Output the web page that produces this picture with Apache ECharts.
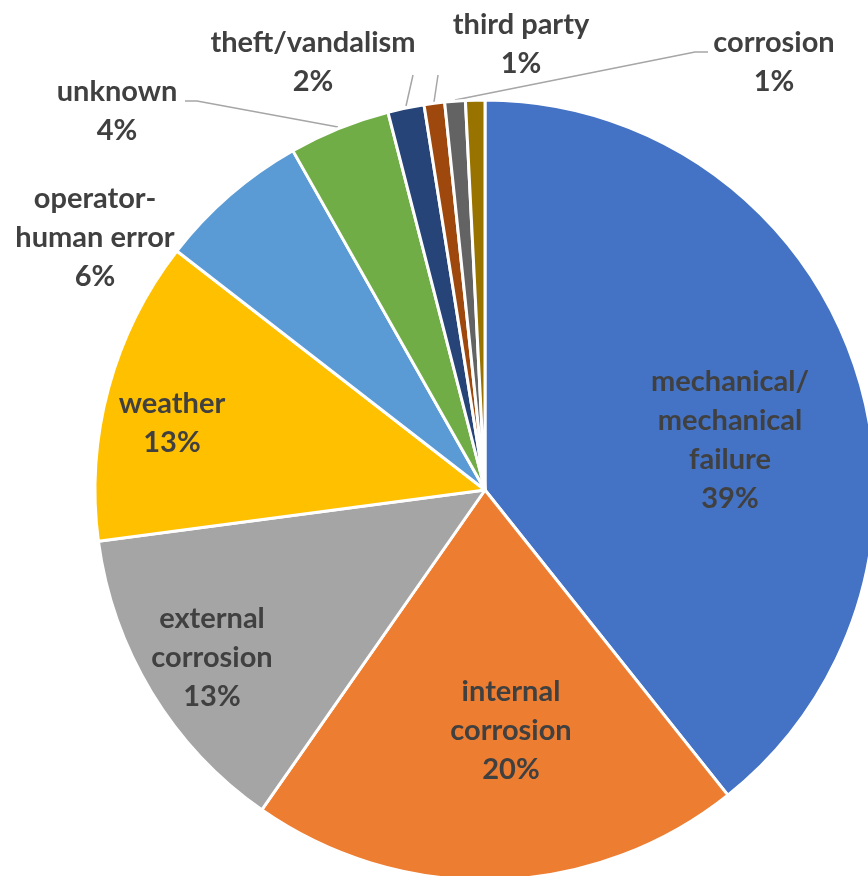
<!DOCTYPE html>
<html><head><meta charset="utf-8">
<script src="https://cdn.jsdelivr.net/npm/echarts@6/dist/echarts.min.js"></script>
<style>html,body{margin:0;padding:0;background:#fff}#c{width:868px;height:876px}</style>
</head><body><div id="c"></div>
<script>
const categories = ['mechanical/\nmechanical\nfailure', 'internal\ncorrosion', 'external\ncorrosion', 'weather', 'operator-\nhuman error', 'unknown', 'theft/vandalism', 'third party', 'corrosion', 'other'];
const values = [39.3, 20.4, 13.2, 12.6, 6.3, 4.2, 1.5, 0.85, 0.85, 0.8];
const colors = ['#4472C4','#ED7D31','#A5A5A5','#FFC000','#5B9BD5','#70AD47','#264478','#9E480E','#636363','#997300'];
// label placement (centres) and leader lines
const labelPos = [[730,440],[511,731],[212,658],[172,423],[95,238],[117,111],[313,62],[521,44],[774,62],null];
const leader = [null,null,null,null,null,[[338,127],[197,101],[185,101]],[[406,106],[413,75]],[[434,102],[438,75]],[[455,100],[695,52],[708,52]],null];

const chart = echarts.init(document.getElementById('c'), null, {renderer:'canvas'});
chart.setOption({
  animation:false,
  series:[{
    type:'pie',
    center:[485,490],
    radius:390,
    startAngle:90,
    clockwise:true,
    percentPrecision:0,
    itemStyle:{borderColor:'#fff',borderWidth:3},
    label:{show:true,position:'outside',overflow:'none',formatter:'{b}\n{d}%',fontFamily:'Lato',fontWeight:'bold',fontSize:29,lineHeight:39,color:'#404040',align:'center'},
    labelLine:{show:true,lineStyle:{color:'#a6a6a6',width:1.5}},
    data:categories.map((n,i)=>({
      name:n, value:values[i],
      itemStyle:{color:colors[i]},
      label:{show: labelPos[i]!==null},
      labelLine:{show: leader[i]!==null}
    })),
    labelLayout:function(p){
      const i=p.dataIndex; const pos=labelPos[i];
      if(!pos) return {};
      const o={x:pos[0],y:pos[1],align:'center',verticalAlign:'middle'};
      if(leader[i]) o.labelLinePoints=leader[i];
      return o;
    }
  }]
});
</script></body></html>
